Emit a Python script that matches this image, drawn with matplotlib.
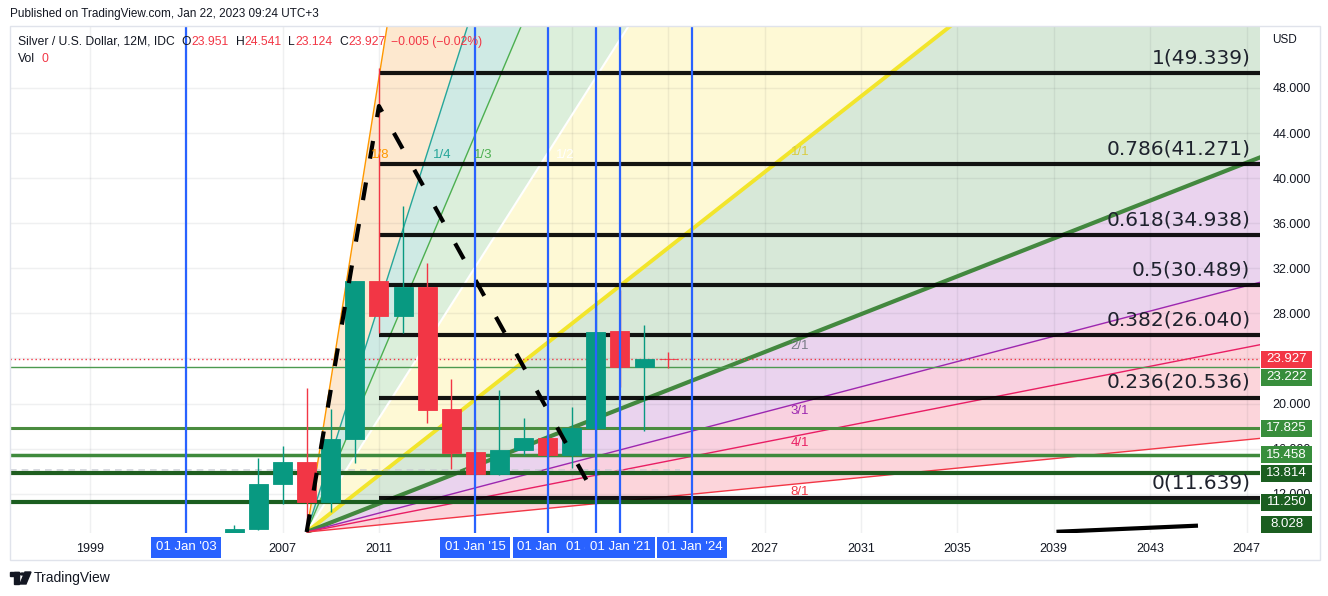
import matplotlib
matplotlib.use('Agg')
import matplotlib.pyplot as plt
from matplotlib.patches import Rectangle, Circle, Polygon
from matplotlib.transforms import blended_transform_factory

plt.rcParams['font.family'] = ['Liberation Sans', 'DejaVu Sans']

W, H = 1328, 596

# yearly candles (silver, USD)
years = [2005, 2006, 2007, 2008, 2009, 2010, 2011, 2012, 2013, 2014,
         2015, 2016, 2017, 2018, 2019, 2020, 2021, 2022, 2023]
opens = [6.8, 8.83, 12.86, 14.81, 11.3, 16.85, 30.87, 27.8, 30.34, 19.5,
         15.7, 13.78, 15.9, 16.94, 15.44, 17.8, 26.44, 23.24, 23.951]
highs = [9.2, 15.2, 16.2, 21.4, 19.5, 30.9, 49.8, 37.5, 32.47, 22.2,
         18.5, 21.2, 18.7, 17.7, 19.7, 29.9, 30.1, 26.97, 24.541]
lows = [6.4, 8.8, 11.1, 8.6, 10.4, 14.7, 26.26, 26.3, 18.3, 14.2,
        13.7, 13.7, 15.4, 14.2, 14.3, 11.6, 21.47, 17.6, 23.124]
closes = [8.87, 12.86, 14.81, 11.3, 16.85, 30.87, 27.8, 30.34, 19.46, 15.64,
          13.78, 15.88, 16.94, 15.44, 17.86, 26.35, 23.24, 23.93, 23.927]

# fib retracement
fib_levels = [0, 0.236, 0.382, 0.5, 0.618, 0.786, 1]
fib_prices = [11.639, 20.536, 26.040, 30.489, 34.938, 41.271, 49.339]
fib_start = 2011

# gann fan
fan_origin = (2008, 8.6)
fan_corner = (2028.47, 43.0)
fan_names = ['1/8', '1/4', '1/3', '1/2', '1/1', '2/1', '3/1', '4/1', '8/1']
fan_ratios = [8, 4, 3, 2, 1, 1 / 2, 1 / 3, 1 / 4, 1 / 8]
fan_line_colors = ['#ff9800', '#26a69a', '#4caf50', '#ffffff', '#f2e52b',
                   '#43883f', '#9c27b0', '#e91e63', '#f23645']
fan_widths = [1, 1, 1, 1.5, 2.8, 3, 1, 1, 1]
fan_text_colors = ['#ff9800', '#26a69a', '#4caf50', '#ffffff', '#d8cc43',
                   '#787b86', '#9c27b0', '#e91e63', '#f23645']
fan_fills = ['#fde8cf', '#cfeae4', '#dcefdb', '#fef9d5',
             '#d7e8d8', '#ead3ee', '#f9d1e0', '#fcd5db']

# horizontal levels
h_prices = [23.222, 17.825, 15.458, 13.814, 11.250, 8.028]
h_colors = ['#4c9a50', '#4a8c3f', '#3f8a3c', '#1f5e20', '#1b5e20', '#1b5e20']
h_widths = [1, 2.2, 2.5, 3, 3, 3]
h_label_colors = ['#388e3c', '#388e3c', '#388e3c', '#1b5e20', '#1b5e20', '#1b5e20']
last_price = 23.927
gray_level = 14.1

# vertical date lines
v_years = [2003, 2015, 2018, 2020, 2021, 2024]
v_labels = ["01 Jan '03", "01 Jan '15", "01 Jan '18", "01 Jan '20", "01 Jan '21", "01 Jan '24"]

# hand drawn dashed path and bottom trend line
path_x = [2008, 2011, 2020]
path_y = [8.6, 46.4, 11.7]
trend_x = [2039.2, 2044.9]
trend_y = [8.63, 9.16]

year_ticks = list(range(1999, 2048, 4))
price_ticks = list(range(12, 49, 4))

fig = plt.figure(figsize=(W / 100, H / 100), dpi=100)
ax = fig.add_axes([10 / W, 1 - 533 / H, 1250 / W, 507 / H])
ax.set_xlim(1995.69, 2047.56)
ax.set_ylim(8.515, 53.5)
for s in ax.spines.values():
    s.set_visible(False)

# grid
for t in year_ticks:
    ax.axvline(t, color='#2a2e39', alpha=0.07, lw=1, zorder=1.2)
for p in price_ticks:
    ax.axhline(p, color='#2a2e39', alpha=0.07, lw=1, zorder=1.2)

# gann fan
x0, p0 = fan_origin
slope = (fan_corner[1] - p0) / (fan_corner[0] - x0)
far = 2200
ends = [p0 + slope * r * (far - x0) for r in fan_ratios]
for i in range(len(fan_fills)):
    ax.add_patch(Polygon([(x0, p0), (far, ends[i]), (far, ends[i + 1])],
                         closed=True, facecolor=fan_fills[i], edgecolor='none', zorder=1))
for i, r in enumerate(fan_ratios):
    ax.plot([x0, far], [p0, ends[i]], color=fan_line_colors[i], lw=fan_widths[i], zorder=2,
            solid_capstyle='butt')
    if r > 1:
        tx = x0 + (fan_corner[1] - p0) / (slope * r)
        ax.annotate(fan_names[i], (tx, fan_corner[1]), xytext=(2, -3), textcoords='offset points',
                    ha='left', va='top', fontsize=9.5, color=fan_text_colors[i], zorder=5)
    else:
        ty = p0 + slope * r * (fan_corner[0] - x0)
        ax.annotate(fan_names[i], (fan_corner[0], ty), xytext=(0, -1.5), textcoords='offset points',
                    ha='center', va='top', fontsize=9.5, color=fan_text_colors[i], zorder=5)

# fib lines
bt = blended_transform_factory(ax.transAxes, ax.transData)
for lvl, p in zip(fib_levels, fib_prices):
    ax.plot([fib_start, 2047.56], [p, p], color='black', lw=3, alpha=0.92, zorder=2.5,
            solid_capstyle='butt')
    ax.annotate(f'{lvl:g}({p:.3f})', (1.0, p), xycoords=bt, xytext=(-7, 7),
                textcoords='offset points', ha='right', va='baseline', fontsize=14.5,
                color='#1e222d', family='DejaVu Sans', zorder=5)

# horizontal green levels
for p, c, w in zip(h_prices, h_colors, h_widths):
    ax.axhline(p, color=c, lw=w, zorder=2.6)
ax.axhline(last_price, color='#f23645', lw=1, ls=(0, (1, 2)), zorder=2.7)
ax.plot([1995.69, 2023.5], [gray_level, gray_level], color='#c4c7cf', lw=1.2,
        ls=(0, (4, 3)), alpha=0.8, zorder=2.6)

# candles
for y, o, h, l, c in zip(years, opens, highs, lows, closes):
    col = '#089981' if c >= o else '#f23645'
    ax.vlines(y, l, h, color=col, lw=1, zorder=3)
    ax.bar(y, abs(c - o), bottom=min(o, c), width=0.79, color=col, edgecolor=col,
           linewidth=0.6, zorder=3)

# dashed path
ax.plot(path_x, path_y, color='black', lw=3, ls=(0, (4.3, 5.8)), zorder=3.5)
ax.plot(trend_x, trend_y, color='black', lw=3, zorder=3.5)

# blue vertical lines
for y in v_years:
    ax.axvline(y, color='#2962ff', lw=1.6, zorder=4)


def to_px(x, y):
    dx, dy = ax.transData.transform((x, y))
    return dx, H - dy


box_w = 70
box_spans = [(to_px(y, 10)[0] - box_w / 2, to_px(y, 10)[0] + box_w / 2) for y in v_years]

# ticks (labels under the date boxes are hidden there anyway)
x_labels = []
for t in year_ticks:
    tx = to_px(t, 10)[0]
    hidden = any(a - 8 < tx < b + 8 for a, b in box_spans)
    x_labels.append('' if hidden else str(t))
ax.set_xticks(year_ticks, labels=x_labels)
ax.tick_params(axis='x', length=0, pad=7, labelsize=9, labelcolor='#131722')
ax.yaxis.tick_right()
ax.set_yticks(price_ticks, labels=['' if p == 24 else f'{p:.3f}' for p in price_ticks])
ax.tick_params(axis='y', length=0, pad=9, labelsize=9, labelcolor='#131722')


def fig_box(xc, yc, w, h, color, text, z, clip_right=None):
    rect = Rectangle(((xc - w / 2) / W, 1 - (yc + h / 2) / H), w / W, h / H,
                     transform=fig.transFigure, facecolor=color, edgecolor='none', zorder=z)
    fig.patches.append(rect)
    t = fig.text(xc / W, 1 - yc / H, text, ha='center', va='center', color='white',
                 fontsize=9.5, zorder=z + 0.5)
    if clip_right is not None:
        clip = Rectangle(((xc - w / 2) / W, 0), (clip_right - (xc - w / 2)) / W, 1,
                         transform=fig.transFigure, visible=False)
        fig.patches.append(clip)
        t.set_clip_path(clip)
        t.set_clip_on(True)


# price axis labels, pushed apart like the app does
labels = [(last_price, '#f23645')] + list(zip(h_prices, h_label_colors))
prev = None
for i, (p, c) in enumerate(labels):
    yp = to_px(2000, p)[1]
    if prev is not None and yp < prev + 18:
        yp = prev + 18
    yp = min(yp, 524)
    prev = yp
    fig_box(1286.5, yp, 51, 17, c, f'{p:.3f}', 10 + i)

fig.text(1272 / W, 1 - 40 / H, 'USD', ha='left', va='center', fontsize=8.5, color='#131722')

# date labels on the time axis
for i, lab in enumerate(v_labels):
    a, b = box_spans[i]
    nxt = box_spans[i + 1][0] if i + 1 < len(box_spans) else None
    clip_r = nxt if (nxt is not None and nxt < b) else None
    fig_box((a + b) / 2, 547, box_w, 21, '#2962ff', lab, 20 + 2 * i, clip_right=clip_r)

# frame
fig.patches.append(Rectangle((10 / W, 1 - 560 / H), 1310 / W, 534 / H, transform=fig.transFigure,
                             fill=False, edgecolor='#e0e3eb', lw=1, zorder=30))

# header and legend
fig.text(10 / W, 1 - 14 / H, 'Published on TradingView.com, Jan 22, 2023 09:24 UTC+3',
         ha='left', va='center', fontsize=8.5, color='#131722')
renderer = fig.canvas.get_renderer()
legend = [('Silver / U.S. Dollar, 12M, IDC', '#131722', 0), ('O', '#131722', 7),
          ('23.951', '#f23645', 0), ('H', '#131722', 7), ('24.541', '#f23645', 0),
          ('L', '#131722', 7), ('23.124', '#f23645', 0), ('C', '#131722', 7),
          ('23.927', '#f23645', 0), ('\u22120.005 (\u22120.02%)', '#f23645', 6)]
cur = 18
for t, c, gap in legend:
    cur += gap
    txt = fig.text(cur / W, 1 - 42 / H, t, ha='left', va='center', fontsize=8.7, color=c, zorder=40)
    cur += txt.get_window_extent(renderer).width
fig.text(18 / W, 1 - 59 / H, 'Vol', ha='left', va='center', fontsize=8.7, color='#131722', zorder=40)
fig.text(41 / W, 1 - 59 / H, '0', ha='left', va='center', fontsize=8.7, color='#f23645', zorder=40)

# TradingView logo
logo = '#131722'
fig.patches.append(Rectangle((10 / W, 1 - 576 / H), 9 / W, 4 / H, transform=fig.transFigure,
                             color=logo))
fig.patches.append(Rectangle((14 / W, 1 - 584 / H), 5 / W, 12 / H, transform=fig.transFigure,
                             color=logo))
fig.patches.append(Circle((22.5 / W, 1 - 574 / H), 2.2 / W, transform=fig.transFigure, color=logo))
fig.patches.append(Polygon([(25 / W, 1 - 572 / H), (31 / W, 1 - 572 / H), (26 / W, 1 - 584 / H),
                            (20 / W, 1 - 584 / H)], closed=True, transform=fig.transFigure,
                           color=logo))
fig.text(34 / W, 1 - 578 / H, 'TradingView', ha='left', va='center', fontsize=10, color=logo)

fig.savefig('out.png', dpi=100)
